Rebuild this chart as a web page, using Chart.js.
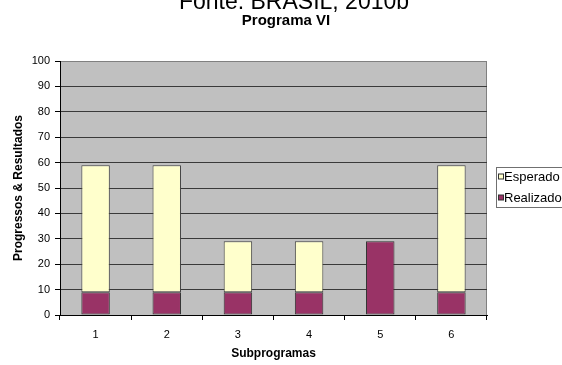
<!DOCTYPE html>
<html>
<head>
<meta charset="utf-8">
<script src="https://cdn.jsdelivr.net/npm/chart.js@4.4.0/dist/chart.umd.min.js"></script>
<style>
  html, body { margin: 0; padding: 0; background: #fff; overflow: hidden; }
  #wrap { width: 572px; height: 365px; }
</style>
</head>
<body>
<div id="wrap"><canvas id="myChart" width="572" height="365"></canvas></div>
<script>
const subprogramas = ['1', '2', '3', '4', '5', '6']
const realizado = [9, 9, 9, 9, 29, 9]
const esperado = [50, 50, 20, 20, 0, 50]
const yTicks = [0, 10, 20, 30, 40, 50, 60, 70, 80, 90, 100]

const fonte = 'Liberation Sans, Arial, sans-serif'
const corEsperado = '#ffffcc'
const corRealizado = '#993366'

// fundo cinza da area de plotagem, borda, titulos e legenda
const plotArea = {
  id: 'plotArea',
  beforeDraw(chart) {
    const { ctx, chartArea: a } = chart
    ctx.save()
    ctx.fillStyle = '#c0c0c0'
    ctx.fillRect(a.left, a.top, a.right - a.left, a.bottom - a.top)
    ctx.strokeStyle = '#808080'
    ctx.lineWidth = 1
    ctx.beginPath()
    ctx.moveTo(a.left, a.top + 0.5)
    ctx.lineTo(a.right - 0.5, a.top + 0.5)
    ctx.lineTo(a.right - 0.5, a.bottom)
    ctx.stroke()
    ctx.restore()
  },
  afterDraw(chart) {
    const { ctx } = chart
    ctx.save()
    ctx.fillStyle = '#000'
    ctx.textAlign = 'center'
    ctx.textBaseline = 'alphabetic'
    ctx.font = '23px ' + fonte
    ctx.fillText('Fonte: BRASIL, 2010b', 294, 9)
    ctx.font = 'bold 15px ' + fonte
    ctx.textBaseline = 'middle'
    ctx.fillText('Programa VI', 286, 21)

    // legenda
    const x = 496.5, y = 167.5
    ctx.fillStyle = '#fff'
    ctx.fillRect(x, y, 100, 40)
    ctx.strokeStyle = '#707070'
    ctx.strokeRect(x, y, 100, 40)
    const itens = [
      { label: 'Esperado', cor: corEsperado, cy: 177 },
      { label: 'Realizado', cor: corRealizado, cy: 198 },
    ]
    ctx.font = '13px ' + fonte
    ctx.textAlign = 'left'
    itens.forEach((item) => {
      ctx.fillStyle = item.cor
      ctx.fillRect(498.5, item.cy - 3, 5, 5)
      ctx.strokeStyle = '#333'
      ctx.strokeRect(498.5, item.cy - 3, 5, 5)
      ctx.fillStyle = '#000'
      ctx.fillText(item.label, 504, item.cy)
    })
    ctx.restore()
  },
}

const data = {
  labels: subprogramas,
  datasets: [
    {
      label: 'Realizado',
      data: realizado,
      backgroundColor: corRealizado,
      borderColor: '#333',
      borderWidth: 1,
      borderSkipped: false,
      categoryPercentage: 1,
      barPercentage: 0.4,
    },
    {
      label: 'Esperado',
      data: esperado,
      backgroundColor: corEsperado,
      borderColor: '#444',
      borderWidth: 1,
      borderSkipped: false,
      categoryPercentage: 1,
      barPercentage: 0.4,
    },
  ],
}

const config = {
  type: 'bar',
  data,
  plugins: [plotArea],
  options: {
    responsive: false,
    animation: false,
    layout: { padding: { left: 0, right: 85, top: 61, bottom: 0 } },
    plugins: {
      legend: { display: false },
      tooltip: { enabled: false },
      title: { display: false },
    },
    scales: {
      x: {
        stacked: true,
        afterFit: (s) => { s.height = 50 },
        grid: {
          drawOnChartArea: false,
          drawTicks: true,
          tickLength: 5,
          color: '#000',
          offset: true,
        },
        border: { color: '#000' },
        ticks: { color: '#000', font: { family: fonte, size: 11 }, padding: 8 },
        title: {
          display: true,
          text: 'Subprogramas',
          color: '#000',
          font: { family: fonte, size: 12, weight: 'bold' },
          padding: { top: 4, bottom: 4 },
        },
      },
      y: {
        stacked: true,
        min: 0,
        max: 100,
        afterFit: (s) => { s.width = 60 },
        afterBuildTicks: (s) => { s.ticks = yTicks.map((v) => ({ value: v })) },
        grid: {
          color: (c) => (c.tick && c.tick.value === 100 ? '#808080' : '#3a3a3a'),
          tickColor: '#000',
          tickLength: 5,
        },
        border: { color: '#000' },
        ticks: { color: '#000', font: { family: fonte, size: 11 }, padding: 5 },
        title: {
          display: true,
          text: 'Progressos & Resultados',
          color: '#000',
          font: { family: fonte, size: 12, weight: 'bold' },
          padding: { top: 11, bottom: 0 },
        },
      },
    },
  },
}

const myChart = new Chart(document.getElementById('myChart'), config)
</script>
</body>
</html>
